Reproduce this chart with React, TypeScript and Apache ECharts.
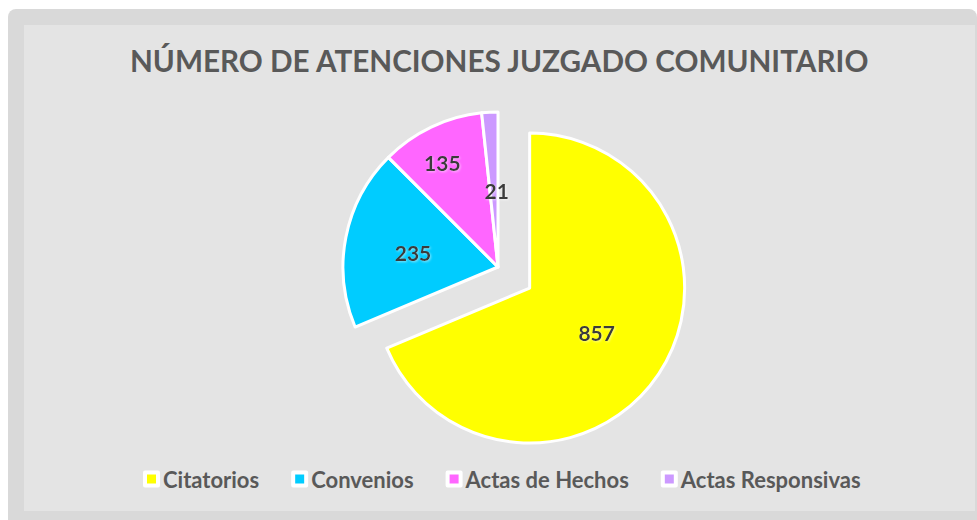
import React, { useEffect, useRef } from "react";
import * as echarts from "echarts";

const categories = ["Citatorios", "Convenios", "Actas de Hechos", "Actas Responsivas"];
const values = [857, 235, 135, 21];
const colors = ["#FFFF00", "#00CCFF", "#FF66FF", "#CC99FF"];
const labelOffsets = [[-1, 3], [-6, 1], [-21, -32], [3, 4]];
const titleText = "NÚMERO DE ATENCIONES JUZGADO COMUNITARIO";

export default function App() {
  const ref = useRef<HTMLDivElement>(null);
  useEffect(() => {
    const chart = echarts.init(ref.current!, undefined, { renderer: "svg" });
    const font = "Lato, 'Open Sans', sans-serif";
    chart.setOption({
      animation: false,
      backgroundColor: "#ffffff",
      title: {
        text: titleText,
        left: 125,
        top: 40,
        textStyle: { fontFamily: font, fontWeight: "bold", fontSize: 29.7, color: "#595959" },
      },
      graphic: [
        { type: "rect", z: -10, shape: { x: 8, y: 9, width: 969, height: 520, r: 8 }, style: { fill: "#d9d9d9" } },
        { type: "rect", z: -9, shape: { x: 24, y: 25, width: 951, height: 486 }, style: { fill: "#e4e4e4" } },
      ],
      legend: {
        left: 138,
        top: 463,
        icon: "rect",
        itemWidth: 13,
        itemHeight: 13,
        itemGap: 32,
        itemStyle: { borderColor: "#ffffff", borderWidth: 4 },
        textStyle: { fontFamily: font, fontWeight: "bold", fontSize: 22, color: "#595959", padding: [0, 0, 0, 0] },
        data: categories,
      },
      series: [
        {
          type: "pie",
          center: [498, 267],
          radius: 155,
          startAngle: 90,
          clockwise: true,
          selectedMode: "single",
          selectedOffset: 38,
          avoidLabelOverlap: false,
          itemStyle: { borderColor: "#ffffff", borderWidth: 3 },
          label: {
            show: true,
            position: "inside",
            formatter: "{c}",
            fontFamily: font,
            fontWeight: "bold",
            fontSize: 21,
            color: "#3a3a3a",
            textShadowColor: "rgba(255,255,255,0.5)",
            textShadowBlur: 2,
            textShadowOffsetX: 1,
            textShadowOffsetY: 1,
          },
          labelLine: { show: false },
          emphasis: { disabled: true },
          select: { itemStyle: { borderColor: "#ffffff", borderWidth: 3 } },
          data: categories.map((name, i) => ({
            name,
            value: values[i],
            selected: i === 0,
            itemStyle: { color: colors[i] },
            label: { offset: labelOffsets[i] },
          })),
        },
      ],
    });
    return () => chart.dispose();
  }, []);
  return <div ref={ref} style={{ position: "fixed", left: 0, top: 0, width: 977, height: 520 }} />;
}
